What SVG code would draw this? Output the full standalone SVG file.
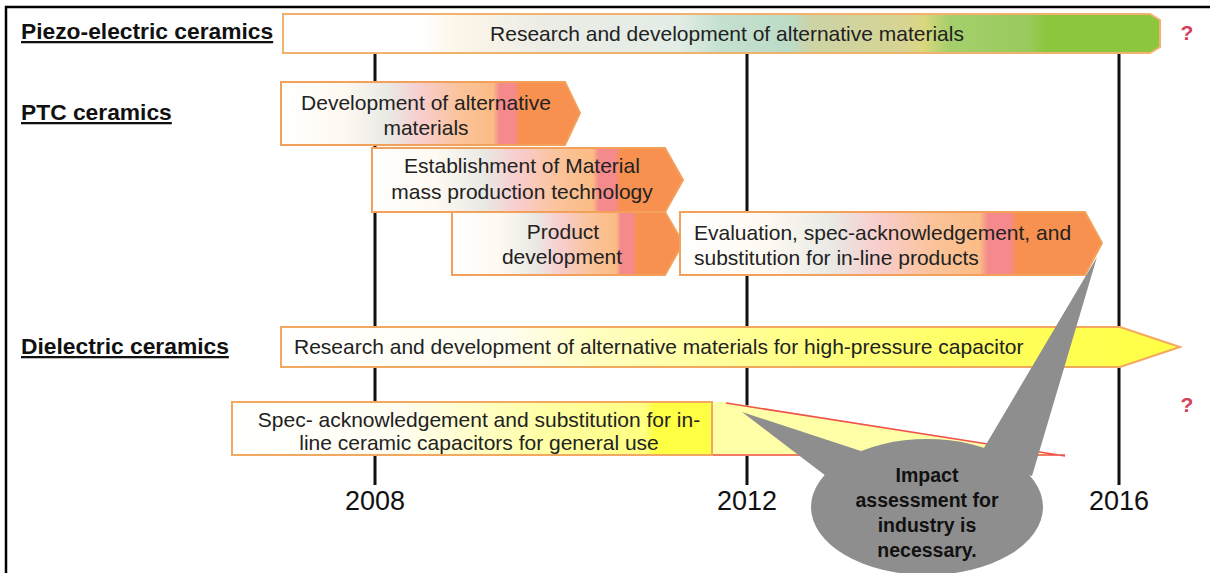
<svg xmlns="http://www.w3.org/2000/svg" width="1210" height="573" viewBox="0 0 1210 573">
<defs>
<linearGradient id="gPiezo" x1="0" y1="0" x2="1" y2="0">
<stop offset="0" stop-color="#ffffff"/>
<stop offset="0.16" stop-color="#ffffff"/>
<stop offset="0.2" stop-color="#fdf6e8"/>
<stop offset="0.3" stop-color="#ebece6"/>
<stop offset="0.45" stop-color="#e2ede5"/>
<stop offset="0.5" stop-color="#c4e0cf"/>
<stop offset="0.58" stop-color="#bcdcc6"/>
<stop offset="0.6" stop-color="#cdd3a6"/>
<stop offset="0.71" stop-color="#d6d492"/>
<stop offset="0.73" stop-color="#dcd77e"/>
<stop offset="0.76" stop-color="#a6cf6c"/>
<stop offset="0.85" stop-color="#98ca5c"/>
<stop offset="0.87" stop-color="#8cc63f"/>
<stop offset="1" stop-color="#8cc63f"/>
</linearGradient>
<linearGradient id="gPtc" x1="0" y1="0" x2="1" y2="0">
<stop offset="0" stop-color="#ffffff"/>
<stop offset="0.2" stop-color="#fffaf2"/>
<stop offset="0.36" stop-color="#e9e9e4"/>
<stop offset="0.47" stop-color="#f8cdcd"/>
<stop offset="0.6" stop-color="#fbc39a"/>
<stop offset="0.71" stop-color="#fbbc85"/>
<stop offset="0.73" stop-color="#f58a8c"/>
<stop offset="0.78" stop-color="#f58a8c"/>
<stop offset="0.8" stop-color="#f8904f"/>
<stop offset="1" stop-color="#f8904f"/>
</linearGradient>
<linearGradient id="gDiel" x1="0" y1="0" x2="1" y2="0">
<stop offset="0" stop-color="#ffffff"/>
<stop offset="0.25" stop-color="#fffdf0"/>
<stop offset="0.35" stop-color="#ffffc0"/>
<stop offset="0.6" stop-color="#ffff80"/>
<stop offset="0.85" stop-color="#ffff55"/>
<stop offset="1" stop-color="#ffff44"/>
</linearGradient>
<linearGradient id="gSpec" x1="0" y1="0" x2="1" y2="0">
<stop offset="0" stop-color="#ffffff"/>
<stop offset="0.35" stop-color="#fffdf0"/>
<stop offset="0.6" stop-color="#ffffb0"/>
<stop offset="0.86" stop-color="#ffff80"/>
<stop offset="0.88" stop-color="#ffff44"/>
<stop offset="1" stop-color="#ffff44"/>
</linearGradient>
<style>
.lbl{font-family:"Liberation Sans",Arial,sans-serif;font-weight:bold;font-size:22.8px;fill:#111;text-decoration:underline;}
.t{font-family:"Liberation Sans",Arial,sans-serif;font-size:21px;fill:#222;}
.yr{font-family:"Liberation Sans",Arial,sans-serif;font-size:27px;fill:#111;text-anchor:middle;}
.q{font-family:"Liberation Sans",Arial,sans-serif;font-weight:bold;font-size:21px;fill:#d5405a;text-anchor:middle;}
.c{text-anchor:middle;}
.ptc{fill:url(#gPtc);stroke:#f3a05a;stroke-width:2;}
.tl{stroke:#111;stroke-width:3;fill:none;}
.call{font-family:"Liberation Sans",Arial,sans-serif;font-weight:bold;font-size:19.5px;fill:#111;text-anchor:middle;}
</style>
</defs>
<rect width="1210" height="573" fill="#ffffff"/>
<g id="frame">
<path d="M6,573 V7 H1210" fill="none" stroke="#000" stroke-width="2.5"/>
</g>
<g id="connectors">
<line class="tl" x1="375" y1="53" x2="375" y2="485"/>
<line class="tl" x1="747" y1="53" x2="747" y2="485"/>
<line class="tl" x1="1119" y1="53" x2="1119" y2="485"/>
</g>
<g id="label-piezo"><text class="lbl" x="21" y="39">Piezo-electric ceramics</text></g>
<g id="label-ptc"><text class="lbl" x="21" y="120">PTC ceramics</text></g>
<g id="label-diel"><text class="lbl" x="21" y="354">Dielectric ceramics</text></g>
<g id="piezo-bar">
<path d="M283,14 H1150 L1160,20 V47 L1150,53 H283 Z" fill="url(#gPiezo)" stroke="#f2b26e" stroke-width="2"/>
<text class="t c" x="727" y="41">Research and development of alternative materials</text>
</g>
<g id="q1"><text class="q" x="1187" y="40">?</text></g>
<g id="ptc-1">
<path class="ptc" d="M281,82 H565 L580,113 L565,145 H281 Z"/>
<text class="t c" x="426" y="110">Development of alternative</text>
<text class="t c" x="426" y="135">materials</text>
</g>
<g id="ptc-2">
<path class="ptc" d="M372,148 H665 L683,180 L665,212 H372 Z"/>
<text class="t c" x="522" y="173">Establishment of Material</text>
<text class="t c" x="522" y="199">mass production technology</text>
</g>
<g id="ptc-3">
<path class="ptc" d="M452,212 H665 L683,243 L665,275 H452 Z"/>
<text class="t c" x="563" y="239">Product</text>
<text class="t c" x="562" y="264">development</text>
</g>
<g id="ptc-4">
<path class="ptc" d="M680,212 H1085 L1102,243 L1085,275 H680 Z"/>
<text class="t" x="694" y="240">Evaluation, spec-acknowledgement, and</text>
<text class="t" x="694" y="265">substitution for in-line products</text>
</g>
<g id="diel-bar">
<path d="M281,327 H1120 L1180,347 L1120,367 H281 Z" fill="url(#gDiel)" stroke="#f3a860" stroke-width="2"/>
<text class="t" x="294" y="354">Research and development of alternative materials for high-pressure capacitor</text>
</g>
<g id="spec-box">
<path d="M712,402 H726 L1065,456 H712 Z" fill="#ffffa8"/>
<path d="M726,403 L1065,456 M712,455 H1065" fill="none" stroke="#f05050" stroke-width="1.5"/>
<rect x="232" y="402" width="480" height="53" fill="url(#gSpec)" stroke="#f3a860" stroke-width="2"/>
<text class="t c" x="479" y="427">Spec- acknowledgement and substitution for in-</text>
<text class="t c" x="479" y="450">line ceramic capacitors for general use</text>
</g>
<g id="q2"><text class="q" x="1187" y="412">?</text></g>
<g id="year-2008"><text class="yr" x="375" y="510">2008</text></g>
<g id="year-2012"><text class="yr" x="747" y="510">2012</text></g>
<g id="year-2016"><text class="yr" x="1119" y="510">2016</text></g>
<g id="callout">
<path d="M742,412 L864,452 L826,476 Z M1097,257 L1032,476 L978,458 Z" fill="#8e8e8e"/>
<ellipse cx="927" cy="507" rx="116" ry="68" fill="#8e8e8e"/>
<text class="call" x="927" y="482">Impact</text>
<text class="call" x="927" y="507">assessment for</text>
<text class="call" x="927" y="532">industry is</text>
<text class="call" x="927" y="557">necessary.</text>
</g>
</svg>
